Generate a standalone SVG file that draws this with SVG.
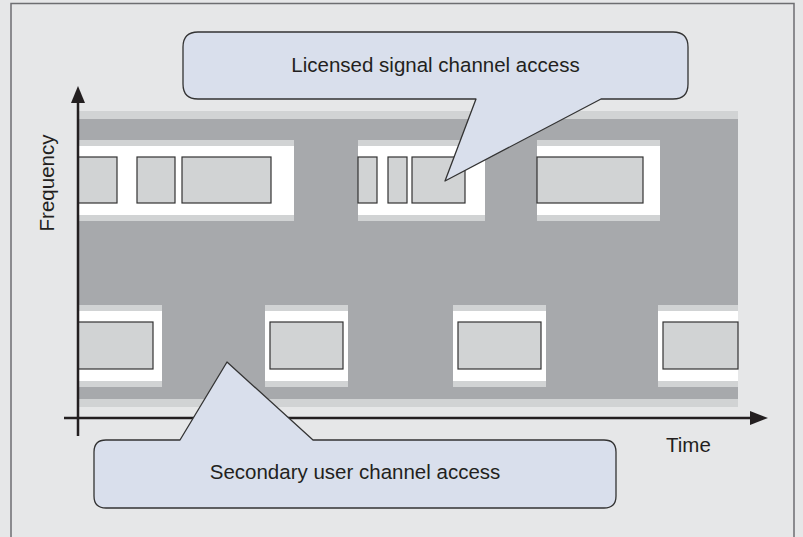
<svg xmlns="http://www.w3.org/2000/svg" width="803" height="537" viewBox="0 0 803 537">
  <defs>
    <style>
      .bg { fill: #e6e7e8; }
      .frame { fill: none; stroke: #6d6e71; stroke-width: 1.5; }
      .light { fill: #d1d3d4; }
      .dark { fill: #a7a9ac; }
      .white { fill: #ffffff; }
      .box { fill: #d1d3d4; stroke: #333333; stroke-width: 1.2; }
      .axis { stroke: #231f20; stroke-width: 2.5; fill: none; }
      .head { fill: #231f20; }
      .callout { fill: #d9dfec; stroke: #333333; stroke-width: 1.3; stroke-linejoin: round; }
      .label { font-family: "Liberation Sans", Arial, sans-serif; font-size: 20.5px; fill: #231f20; }
    </style>
  </defs>

  <rect class="bg" x="0" y="0" width="803" height="537"/>
  <path class="frame" d="M11,545 V3.5 H794 V545"/>

  <g id="band">
    <rect class="light" x="78" y="111" width="660" height="296"/>
    <rect class="dark" x="78" y="119" width="660" height="280"/>
  </g>

  <g id="licensed-row">
    <g id="licensed-block-1">
      <rect class="light" x="78" y="140" width="216" height="81"/>
      <rect class="white" x="78" y="146" width="216" height="69"/>
      <rect class="box" x="78" y="157" width="39" height="46"/>
      <rect class="box" x="137" y="157" width="38" height="46"/>
      <rect class="box" x="182" y="157" width="89" height="46"/>
    </g>
    <g id="licensed-block-2">
      <rect class="light" x="358" y="140" width="127" height="81"/>
      <rect class="white" x="358" y="146" width="127" height="69"/>
      <rect class="box" x="358" y="157" width="19" height="46"/>
      <rect class="box" x="388" y="157" width="19" height="46"/>
      <rect class="box" x="412" y="157" width="53" height="46"/>
    </g>
    <g id="licensed-block-3">
      <rect class="light" x="537" y="140" width="123" height="81"/>
      <rect class="white" x="537" y="146" width="123" height="69"/>
      <rect class="box" x="537" y="157" width="106" height="46"/>
    </g>
  </g>

  <g id="secondary-row">
    <g id="secondary-block-1">
      <rect class="light" x="78" y="305" width="84" height="82"/>
      <rect class="white" x="78" y="311" width="84" height="70"/>
      <rect class="box" x="78" y="322" width="75" height="47"/>
    </g>
    <g id="secondary-block-2">
      <rect class="light" x="265" y="305" width="83" height="82"/>
      <rect class="white" x="265" y="311" width="83" height="70"/>
      <rect class="box" x="270" y="322" width="73" height="47"/>
    </g>
    <g id="secondary-block-3">
      <rect class="light" x="453" y="305" width="93" height="82"/>
      <rect class="white" x="453" y="311" width="93" height="70"/>
      <rect class="box" x="458" y="322" width="83" height="47"/>
    </g>
    <g id="secondary-block-4">
      <rect class="light" x="658" y="305" width="80" height="82"/>
      <rect class="white" x="658" y="311" width="80" height="70"/>
      <rect class="box" x="663" y="322" width="75" height="47"/>
    </g>
  </g>

  <g id="connectors">
    <line class="axis" x1="78" y1="436" x2="78" y2="100"/>
    <polygon class="head" points="78,86 71,103 85,103"/>
    <line class="axis" x1="64" y1="418" x2="753" y2="418"/>
    <polygon class="head" points="768,418 750,411 750,425"/>
  </g>

  <g id="frequency-label">
    <text class="label" transform="translate(54,183) rotate(-90)" text-anchor="middle">Frequency</text>
  </g>
  <g id="time-label">
    <text class="label" x="666" y="452">Time</text>
  </g>

  <g id="licensed-callout">
    <path class="callout" d="M198,32 H673 Q688,32 688,47 V84 Q688,99 673,99 H601 L445,181 L476,99 H198 Q183,99 183,84 V47 Q183,32 198,32 Z"/>
    <text class="label" x="435.5" y="72" text-anchor="middle">Licensed signal channel access</text>
  </g>

  <g id="secondary-callout">
    <path class="callout" d="M106,440 H180 L227,362 L313,440 H604 Q616,440 616,452 V496 Q616,508 604,508 H106 Q94,508 94,496 V452 Q94,440 106,440 Z"/>
    <text class="label" x="355" y="479" text-anchor="middle">Secondary user channel access</text>
  </g>
</svg>
